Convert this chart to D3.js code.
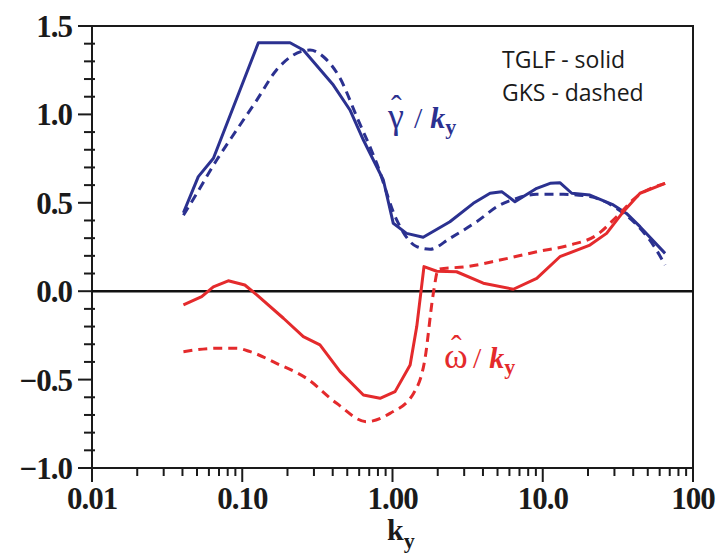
<!DOCTYPE html>
<html>
<head>
<meta charset="utf-8">
<script src="https://cdn.jsdelivr.net/npm/d3@7"></script>
<style>
  html, body { margin: 0; padding: 0; background: #fff; }
  svg { display: block; }
</style>
</head>
<body>
<svg id="chart" width="720" height="558"></svg>
<script>
// Normalised growth rate and frequency vs k_y (log axis)
const gammaTGLF_k = [0.0406, 0.051, 0.0643, 0.0966, 0.128, 0.208, 0.255, 0.404, 0.521, 0.64, 0.869, 1.012, 1.24, 1.6, 2.41, 3.45, 4.46, 5.33, 6.53, 9.12, 11.2, 13.0, 15.6, 20.6, 29.5, 36.1, 44.4, 65.2];
const gammaTGLF_v = [0.444, 0.648, 0.752, 1.138, 1.405, 1.405, 1.364, 1.166, 1.025, 0.855, 0.629, 0.384, 0.327, 0.305, 0.393, 0.497, 0.554, 0.563, 0.506, 0.582, 0.61, 0.614, 0.554, 0.544, 0.488, 0.44, 0.365, 0.214];

const gammaGKS_k = [0.0406, 0.0472, 0.0676, 0.0918, 0.125, 0.169, 0.219, 0.282, 0.347, 0.448, 0.578, 0.785, 1.066, 1.45, 1.78, 2.41, 3.63, 5.19, 6.7, 9.1, 13.7, 20.6, 31.0, 44.4, 54.4, 65.2];
const gammaGKS_v = [0.43, 0.52, 0.742, 0.912, 1.081, 1.251, 1.336, 1.364, 1.326, 1.204, 0.987, 0.723, 0.403, 0.252, 0.237, 0.299, 0.393, 0.488, 0.525, 0.548, 0.548, 0.535, 0.469, 0.356, 0.261, 0.148];

const omegaTGLF_k = [0.0406, 0.0537, 0.0642, 0.0807, 0.104, 0.125, 0.188, 0.255, 0.329, 0.448, 0.64, 0.826, 1.04, 1.31, 1.45, 1.62, 1.97, 2.67, 4.02, 6.37, 9.12, 13.0, 20.6, 26.6, 34.4, 44.4, 65.2];
const omegaTGLF_v = [-0.078, -0.031, 0.025, 0.059, 0.035, -0.021, -0.153, -0.257, -0.304, -0.455, -0.587, -0.606, -0.568, -0.417, -0.2, 0.139, 0.113, 0.11, 0.045, 0.011, 0.073, 0.195, 0.261, 0.327, 0.45, 0.554, 0.61];

const omegaGKS_k = [0.0406, 0.0676, 0.0918, 0.113, 0.169, 0.268, 0.425, 0.673, 0.962, 1.38, 1.64, 1.87, 2.02, 3.12, 5.19, 9.12, 15.2, 22.9, 31.0, 42.2, 65.2];
const omegaGKS_v = [-0.342, -0.323, -0.323, -0.342, -0.408, -0.493, -0.634, -0.738, -0.691, -0.578, -0.389, -0.012, 0.125, 0.139, 0.176, 0.223, 0.261, 0.318, 0.421, 0.535, 0.61];

const xTickValues = [0.01, 0.1, 1, 10, 100];
const xTickLabels = ["0.01", "0.10", "1.00", "10.0", "100"];
const yTickValues = [-1.0, -0.5, 0.0, 0.5, 1.0, 1.5];
const yTickLabels = ["\u22121.0", "\u22120.5", "0.0", "0.5", "1.0", "1.5"];
const legendLines = ["TGLF - solid", "GKS - dashed"];

const BLUE = "#2b3190";
const RED = "#e42a2c";

const svg = d3.select("#chart");
const plotLeft = 92, plotRight = 693, plotTop = 26, plotBottom = 468;

const x = d3.scaleLog().domain([0.01, 100]).range([plotLeft, plotRight]);
const y = d3.scaleLinear().domain([-1.0, 1.5]).range([plotBottom, plotTop]);

const serif = "'Liberation Serif', 'Times New Roman', serif";

// frame
svg.append("rect")
  .attr("x", plotLeft).attr("y", plotTop)
  .attr("width", plotRight - plotLeft).attr("height", plotBottom - plotTop)
  .attr("fill", "none").attr("stroke", "#1a1a1a").attr("stroke-width", 2);

// zero line
svg.append("line")
  .attr("x1", plotLeft).attr("x2", plotRight)
  .attr("y1", y(0)).attr("y2", y(0))
  .attr("stroke", "#111").attr("stroke-width", 2.5);

// x axis ticks (major + minor, pointing down)
const xMinor = [];
for (let e = -2; e < 2; e++) for (let m = 2; m <= 9; m++) xMinor.push(m * Math.pow(10, e));
const xAxis = svg.append("g");
xAxis.selectAll("line.minor").data(xMinor).enter().append("line")
  .attr("class", "minor")
  .attr("x1", d => x(d)).attr("x2", d => x(d))
  .attr("y1", plotBottom).attr("y2", plotBottom + 8)
  .attr("stroke", "#1a1a1a").attr("stroke-width", 2);
xAxis.selectAll("line.major").data(xTickValues).enter().append("line")
  .attr("class", "major")
  .attr("x1", d => x(d)).attr("x2", d => x(d))
  .attr("y1", plotBottom).attr("y2", plotBottom + 14)
  .attr("stroke", "#1a1a1a").attr("stroke-width", 2);
xAxis.selectAll("text").data(xTickValues).enter().append("text")
  .attr("x", d => x(d)).attr("y", 509)
  .attr("text-anchor", "middle")
  .attr("font-family", serif).attr("font-weight", "bold").attr("font-size", 31)
  .attr("letter-spacing", -1)
  .attr("fill", "#1a1a1a")
  .text((d, i) => xTickLabels[i]);

// y axis ticks
const yMinor = d3.range(-10, 16).map(i => i / 10).filter(v => Math.abs(v * 2 - Math.round(v * 2)) > 1e-6);
const yAxis = svg.append("g");
yAxis.selectAll("line.minor").data(yMinor).enter().append("line")
  .attr("class", "minor")
  .attr("x1", plotLeft - 8).attr("x2", plotLeft + 3)
  .attr("y1", d => y(d)).attr("y2", d => y(d))
  .attr("stroke", "#1a1a1a").attr("stroke-width", 2);
yAxis.selectAll("line.major").data(yTickValues).enter().append("line")
  .attr("class", "major")
  .attr("x1", plotLeft - 14).attr("x2", plotLeft)
  .attr("y1", d => y(d)).attr("y2", d => y(d))
  .attr("stroke", "#1a1a1a").attr("stroke-width", 2);
yAxis.selectAll("text").data(yTickValues).enter().append("text")
  .attr("x", 72).attr("y", d => y(d) + 11)
  .attr("text-anchor", "end")
  .attr("font-family", serif).attr("font-weight", "bold").attr("font-size", 31)
  .attr("letter-spacing", -1)
  .attr("fill", "#1a1a1a")
  .text((d, i) => yTickLabels[i]);

// x axis title k_y
const xt = svg.append("text")
  .attr("x", 387).attr("y", 540)
  .attr("font-family", serif).attr("font-weight", "bold").attr("font-size", 30)
  .attr("fill", "#1a1a1a");
xt.append("tspan").text("k");
xt.append("tspan").attr("dy", 8).attr("font-size", 22).text("y");

// series
function series(ks, vs, color, dashed) {
  const pts = ks.map((k, i) => [k, vs[i]]);
  const line = d3.line()
    .x(d => x(d[0])).y(d => y(d[1]))
    .curve(dashed ? d3.curveMonotoneX : d3.curveLinear);
  svg.append("path")
    .attr("d", line(pts))
    .attr("fill", "none")
    .attr("stroke", color)
    .attr("stroke-width", 3)
    .attr("stroke-linejoin", "round")
    .attr("stroke-dasharray", dashed ? "9,6" : null);
}
series(gammaGKS_k, gammaGKS_v, BLUE, true);
series(gammaTGLF_k, gammaTGLF_v, BLUE, false);
series(omegaGKS_k, omegaGKS_v, RED, true);
series(omegaTGLF_k, omegaTGLF_v, RED, false);

// curve labels: hatted symbol / k_y (hat placed over the symbol)
function ratioLabel(px, py, symbol, color, hatX, slashX) {
  const t = svg.append("text")
    .attr("x", px).attr("y", py)
    .attr("fill", color)
    .attr("font-family", serif).attr("font-size", 30);
  t.append("tspan").attr("font-size", 36).text(symbol);
  t.append("tspan").attr("x", hatX).attr("dy", -11).attr("font-size", 32).text("\u02C6");
  t.append("tspan").attr("x", slashX).attr("dy", 11).text("/");
  t.append("tspan").attr("dx", 8).attr("font-weight", "bold").attr("font-style", "italic").text("k");
  t.append("tspan").attr("dy", 6).attr("font-weight", "bold").attr("font-size", 22).text("y");
}
ratioLabel(388, 128, "\u03B3", BLUE, 391, 414);
ratioLabel(444, 368, "\u03C9", RED, 451, 473);

// legend text
svg.selectAll("text.legend").data(legendLines).enter().append("text")
  .attr("class", "legend")
  .attr("x", 502).attr("y", (d, i) => 68 + i * 33)
  .attr("font-family", "'Open Sans', 'Liberation Sans', sans-serif")
  .attr("font-size", 23)
  .attr("fill", "#1a1a1a")
  .text(d => d);
</script>
</body>
</html>
